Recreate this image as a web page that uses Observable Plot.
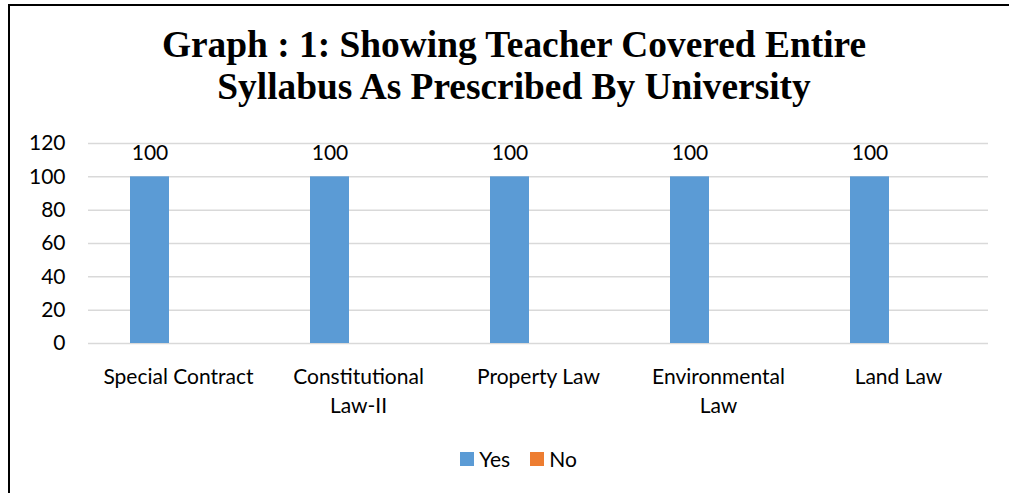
<!DOCTYPE html>
<html>
<head>
<meta charset="utf-8">
<script src="https://cdn.jsdelivr.net/npm/d3@7"></script>
<script src="https://cdn.jsdelivr.net/npm/@observablehq/plot@0.6"></script>
<style>
  html, body { margin: 0; padding: 0; background: #fff; }
  body { width: 1009px; height: 493px; position: relative; overflow: hidden; }
  #frame { position: absolute; left: 8px; top: 4px; width: 1100px; height: 600px;
           border-left: 2.5px solid #000; border-top: 2px solid #000; box-sizing: border-box; }
  #title { position: absolute; left: 0; top: 24px; width: 1028px; text-align: center;
           font-family: "Liberation Serif", "Times New Roman", serif; font-weight: bold;
           font-size: 37.4px; line-height: 42px; color: #000; }
  #chart { position: absolute; left: 0; top: 120px; }
  #legend { position: absolute; left: 0; top: 446px; width: 1009px; box-sizing: border-box;
            padding-left: 28px; display: flex; justify-content: center; align-items: center;
            font-family: Lato, "Noto Sans", sans-serif; font-size: 21px; color: #000; }
  .item { display: flex; align-items: center; margin: 0 10px; }
  .sw { width: 14px; height: 14px; margin-right: 5px; }
</style>
</head>
<body>
<div id="frame"></div>
<div id="title">Graph : 1: Showing Teacher Covered Entire<br>Syllabus As Prescribed By University</div>
<div id="chart"></div>
<div id="legend"></div>
<script>
const categories = ["Special Contract", "Constitutional Law-II", "Property Law", "Environmental Law", "Land Law"];
const categoryLabels = ["Special Contract", "Constitutional\nLaw-II", "Property Law", "Environmental\nLaw", "Land Law"];
const series = ["Yes", "No"];
const seriesColors = ["#5B9BD5", "#ED7D31"];
const yesValues = [100, 100, 100, 100, 100];
const noValues = [0, 0, 0, 0, 0];
const yTicks = [0, 20, 40, 60, 80, 100, 120];

const data = categories.flatMap((c, i) => [
  {category: c, series: "Yes", value: yesValues[i]},
  {category: c, series: "No", value: noValues[i]}
]);
const labelOf = new Map(categories.map((c, i) => [c, categoryLabels[i]]));

const chart = Plot.plot({
  width: 1009,
  height: 305,
  marginTop: 23,
  marginBottom: 82,
  marginLeft: 86,
  marginRight: 20,
  style: {fontFamily: "Lato, 'Noto Sans', sans-serif", fontSize: "21px", color: "#000", background: "transparent", overflow: "visible"},
  fx: {domain: categories, padding: 0, label: null},
  x: {domain: series, padding: 0, paddingOuter: 1.2575, align: 0.41, axis: null},
  y: {domain: [0, 120], label: null},
  color: {domain: series, range: seriesColors},
  marks: [
    Plot.gridY(yTicks, {stroke: "#d9d9d9", strokeOpacity: 1, strokeWidth: 1.5}),
    Plot.barY(data, {fx: "category", x: "series", y: "value", fill: "series"}),
    Plot.text(data.filter(d => d.series === "Yes"), {
      fx: "category", x: "series", y: "value", text: d => String(d.value),
      dy: -17, lineAnchor: "bottom", fontSize: 21, fill: "#000"
    }),
    Plot.axisY(yTicks, {tickSize: 0, tickPadding: 23, label: null, fontSize: 21}),
    Plot.axisFx({anchor: "bottom", tickSize: 0, tickPadding: 20, label: null, fontSize: 21, lineHeight: 1.38,
                 tickFormat: c => labelOf.get(c)})
  ]
});
document.getElementById("chart").appendChild(chart);

const legend = document.getElementById("legend");
series.forEach((s, i) => {
  const item = document.createElement("div");
  item.className = "item";
  const sw = document.createElement("div");
  sw.className = "sw";
  sw.style.background = seriesColors[i];
  const t = document.createElement("span");
  t.textContent = s;
  item.appendChild(sw);
  item.appendChild(t);
  legend.appendChild(item);
});
</script>
</body>
</html>
